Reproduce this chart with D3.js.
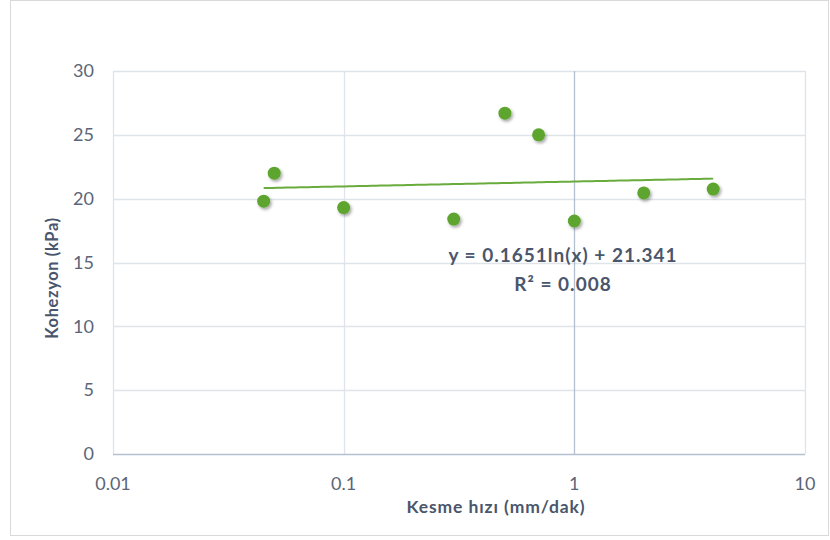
<!DOCTYPE html>
<html>
<head>
<meta charset="utf-8">
<script src="https://cdn.jsdelivr.net/npm/d3@7"></script>
<style>
  body { margin: 0; background: #fff; }
  svg { display: block; font-family: Lato, "Open Sans", sans-serif; }
</style>
</head>
<body>
<svg id="chart" width="830" height="540"></svg>
<script>
// Shear rate (mm/dak) and cohesion (kPa)
const speeds   = [0.045, 0.05, 0.1, 0.3, 0.5, 0.7, 1, 2, 4];
const cohesion = [19.8, 22.0, 19.3, 18.4, 26.7, 25.0, 18.25, 20.45, 20.75];
const xTicks = [0.01, 0.1, 1, 10];
const xTickLabels = ["0.01", "0.1", "1", "10"];
const yTicks = [0, 5, 10, 15, 20, 25, 30];
// Logarithmic trend line: y = a ln(x) + b
const trendA = 0.1651, trendB = 21.341;
const trendText = ["y = 0.1651ln(x) + 21.341", "R² = 0.008"];

const svg = d3.select("#chart");
const m = { left: 113, right: 805, top: 71, bottom: 454 };

const x = d3.scaleLog().domain([0.01, 10]).range([m.left, m.right]);
const y = d3.scaleLinear().domain([0, 30]).range([m.bottom, m.top]);

// chart frame
svg.append("rect").attr("x", 10.5).attr("y", 0.5).attr("width", 818).attr("height", 535)
  .attr("fill", "#fff").attr("stroke", "#d9d9d9");

const defs = svg.append("defs");
const f = defs.append("filter").attr("id", "shadow").attr("x", "-50%").attr("y", "-50%")
  .attr("width", "200%").attr("height", "200%");
f.append("feDropShadow").attr("dx", 1.5).attr("dy", 2).attr("stdDeviation", 1.5)
  .attr("flood-color", "#000").attr("flood-opacity", 0.35);

// horizontal gridlines
svg.append("g").selectAll("line").data(yTicks.filter(d => d > 0)).join("line")
  .attr("x1", m.left).attr("x2", m.right)
  .attr("y1", d => Math.round(y(d)) + 0.5).attr("y2", d => Math.round(y(d)) + 0.5)
  .attr("stroke", "#dfe3ea").attr("stroke-width", 1.3);

// vertical gridlines
svg.append("g").selectAll("line").data(xTicks.filter(d => d !== 1)).join("line")
  .attr("x1", d => Math.round(x(d)) + 0.5).attr("x2", d => Math.round(x(d)) + 0.5)
  .attr("y1", m.top).attr("y2", m.bottom)
  .attr("stroke", "#dfe3ea").attr("stroke-width", 1.3);

// value axis crossing at x = 1
svg.append("line")
  .attr("x1", Math.round(x(1)) + 0.5).attr("x2", Math.round(x(1)) + 0.5)
  .attr("y1", m.top).attr("y2", m.bottom)
  .attr("stroke", "#b4bfcf").attr("stroke-width", 1.3);

// category axis line at y = 0
svg.append("line")
  .attr("x1", m.left).attr("x2", m.right)
  .attr("y1", Math.round(y(0)) + 0.5).attr("y2", Math.round(y(0)) + 0.5)
  .attr("stroke", "#b4bfcf").attr("stroke-width", 1.3);

// y tick labels
svg.append("g").selectAll("text").data(yTicks).join("text")
  .attr("x", 94).attr("y", d => y(d)).attr("dy", "0.35em")
  .attr("text-anchor", "end").attr("font-size", 18).attr("fill", "#5b6577")
  .text(d => d);

// x tick labels
svg.append("g").selectAll("text").data(xTicks).join("text")
  .attr("x", d => x(d)).attr("y", 490)
  .attr("text-anchor", "middle").attr("font-size", 18).attr("fill", "#5b6577")
  .text((d, i) => xTickLabels[i]);

// axis titles
svg.append("text").attr("x", 496).attr("y", 513).attr("text-anchor", "middle")
  .attr("font-size", 17.5).attr("letter-spacing", 0.9).attr("font-weight", "bold")
  .attr("fill", "#4a566b").text("Kesme hızı (mm/dak)");
svg.append("text").attr("transform", "translate(58,278) rotate(-90)")
  .attr("text-anchor", "middle").attr("font-size", 16.5).attr("letter-spacing", 0.6)
  .attr("font-weight", "bold").attr("fill", "#4a566b").text("Kohezyon (kPa)");

// trend line
const trendX = d3.range(0, 101).map(i => {
  const lo = Math.log(d3.min(speeds)), hi = Math.log(d3.max(speeds));
  return Math.exp(lo + (hi - lo) * i / 100);
});
svg.append("path")
  .datum(trendX)
  .attr("fill", "none").attr("stroke", "#6aab3d").attr("stroke-width", 2)
  .attr("d", d3.line().x(d => x(d)).y(d => y(trendA * Math.log(d) + trendB)));

// data points
svg.append("g").selectAll("circle").data(speeds).join("circle")
  .attr("cx", d => x(d)).attr("cy", (d, i) => y(cohesion[i]))
  .attr("r", 6.5).attr("fill", "#5da52f").attr("filter", "url(#shadow)");

// equation label
svg.append("g").selectAll("text").data(trendText).join("text")
  .attr("x", 563).attr("y", (d, i) => 262 + i * 29)
  .attr("text-anchor", "middle").attr("font-size", 19).attr("letter-spacing", 1)
  .attr("font-weight", "bold").attr("fill", "#4a566b").text(d => d);
</script>
</body>
</html>
